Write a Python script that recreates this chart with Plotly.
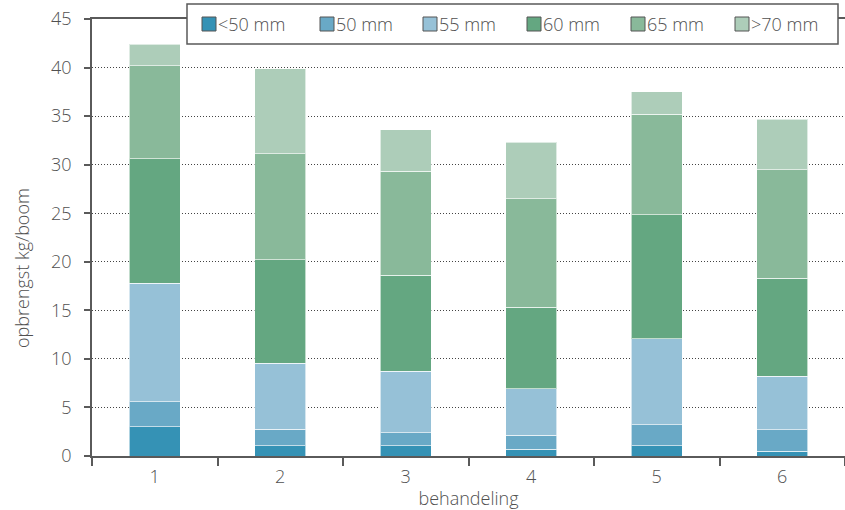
import plotly.graph_objects as go

# Yield per tree (kg) by fruit size class, for each treatment
treatments = [1, 2, 3, 4, 5, 6]
size_classes = ["<50 mm", "50 mm", "55 mm", "60 mm", "65 mm", ">70 mm"]
colors = ["#3592b5", "#69a9c6", "#96c1d7", "#64a781", "#89b99a", "#adcdb9"]

lt50 = [3.0, 1.05, 1.05, 0.7, 1.05, 0.5]
mm50 = [2.6, 1.7, 1.35, 1.45, 2.15, 2.2]
mm55 = [12.2, 6.8, 6.35, 4.75, 8.85, 5.5]
mm60 = [12.8, 10.65, 9.85, 8.4, 12.8, 10.1]
mm65 = [9.6, 10.9, 10.7, 11.2, 10.35, 11.2]
gt70 = [2.2, 8.8, 4.3, 5.8, 2.3, 5.2]
series = [lt50, mm50, mm55, mm60, mm65, gt70]

FONT = "Open Sans"
TEXT = "#505050"
AXIS = "#5a5a5a"
FS = 18

W, H = 845, 510
ML, MR, MT, MB = 92, 0, 19, 54
PW, PH = W - ML - MR, H - MT - MB

fig = go.Figure()
for name, vals, col in zip(size_classes, series, colors):
    fig.add_trace(go.Bar(
        x=treatments, y=vals, name=name, width=0.41,
        marker=dict(color=col, line=dict(color="rgba(255,255,255,0.6)", width=1)),
        showlegend=False,
    ))

# Legend box laid out in pixels, converted to paper coordinates
def px(x):
    return (x - ML) / PW

def py(y):
    return (H - MB - y) / PH

shapes = [dict(type="rect", xref="paper", yref="paper",
               x0=px(187), x1=px(838), y0=py(44), y1=py(4),
               line=dict(color=AXIS, width=1.5), fillcolor="white", layer="above")]
annotations = []
item_x = [202, 320, 423, 527, 631, 735]
for xx, name, col in zip(item_x, size_classes, colors):
    shapes.append(dict(type="rect", xref="paper", yref="paper",
                       x0=px(xx), x1=px(xx + 14), y0=py(31), y1=py(17),
                       line=dict(color="#555555", width=1), fillcolor=col, layer="above"))
    annotations.append(dict(xref="paper", yref="paper", x=px(xx + 14), y=py(24),
                            xanchor="left", yanchor="middle", text=name, showarrow=False,
                            font=dict(family=FONT, size=FS, color=TEXT, weight=300)))

annotations.append(dict(xref="paper", yref="paper", x=px(22), y=py(268),
                        xanchor="center", yanchor="middle", text="opbrengst kg/boom",
                        textangle=-90, showarrow=False,
                        font=dict(family=FONT, size=FS, color=TEXT, weight=300)))

fig.update_layout(
    width=W, height=H,
    margin=dict(l=ML, r=MR, t=MT, b=MB),
    barmode="stack",
    plot_bgcolor="white", paper_bgcolor="white",
    font=dict(family=FONT, size=FS, color=TEXT, weight=300),
    shapes=shapes, annotations=annotations,
)
fig.update_xaxes(
    range=[0.5, 6.5], tickvals=treatments, ticktext=[str(t) for t in treatments],
    ticks="", showgrid=False, showline=True, linecolor=AXIS, linewidth=1.5, mirror=True,
    minor=dict(tick0=0.5, dtick=1, ticks="outside", ticklen=8, tickcolor=AXIS, tickwidth=1.5),
    ticklabelstandoff=4,
    title=dict(text="behandeling", font=dict(size=FS), standoff=7),
    zeroline=False,
)
fig.update_yaxes(
    range=[0, 45], dtick=5, ticks="outside", ticklen=6, tickcolor=AXIS, tickwidth=1.5,
    showline=True, linecolor=AXIS, linewidth=1.5,
    showgrid=True, gridcolor="#444444", griddash="1px,2px", gridwidth=1,
    zeroline=False, ticklabelstandoff=9,
)

fig.write_html("out.html")
